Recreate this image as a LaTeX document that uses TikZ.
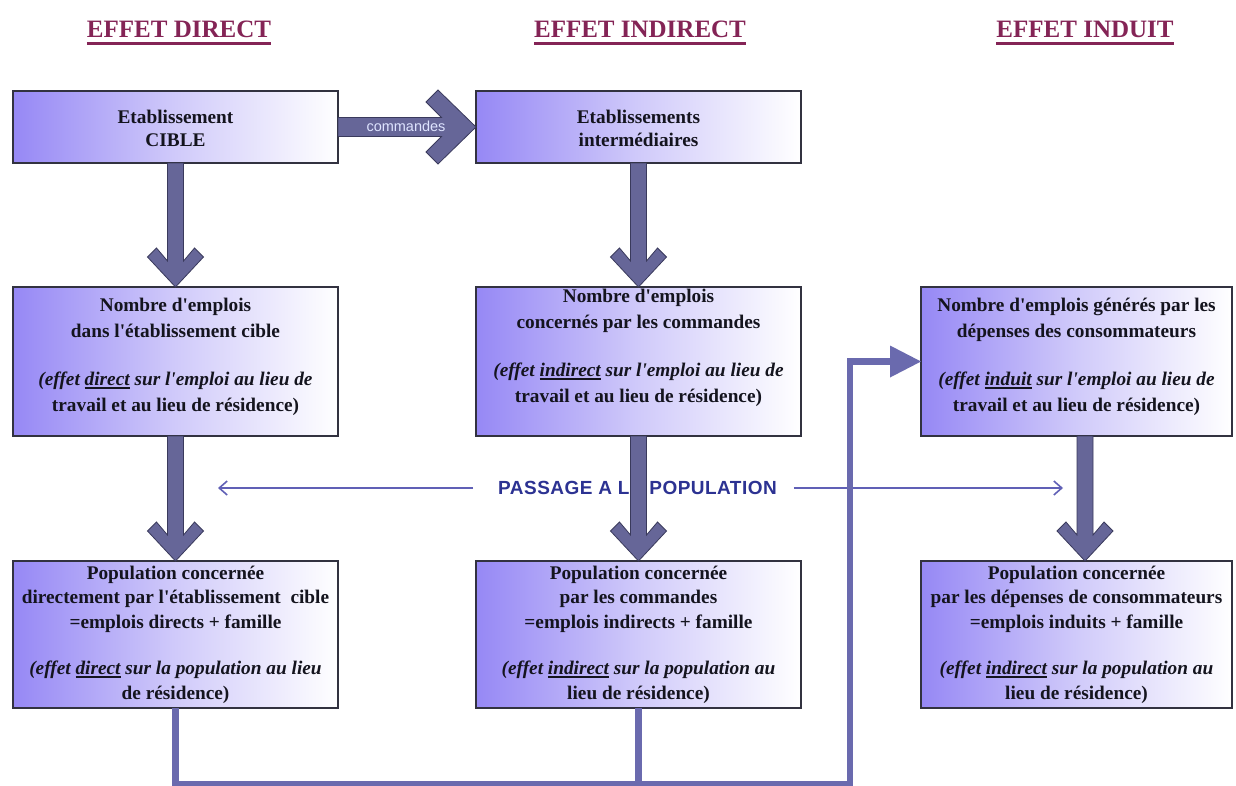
\documentclass[tikz,border=0pt]{standalone}
\usepackage{fontspec}
\setmainfont{Liberation Serif}[Ligatures=TeXOff]
\newfontfamily\arialf{Liberation Sans}
\newfontfamily\arialsp{Liberation Sans}[LetterSpace=2.5]
\usetikzlibrary{arrows.meta,calc}
\definecolor{boxL}{RGB}{150,136,245}
\definecolor{boxM}{RGB}{208,202,250}
\definecolor{boxD}{RGB}{50,50,64}
\definecolor{arrF}{RGB}{102,102,152}
\definecolor{arrD}{RGB}{58,58,92}
\definecolor{lnk}{RGB}{106,106,174}
\definecolor{hdr}{RGB}{132,36,86}
\definecolor{pas}{RGB}{44,50,146}
\definecolor{pasln}{RGB}{96,96,182}
\definecolor{cmdtxt}{RGB}{222,228,255}
\definecolor{txt}{RGB}{20,20,30}
\newsavebox\myulbox
\newcommand\myul[1]{\sbox\myulbox{#1}\rlap{\rule[-3.4pt]{\wd\myulbox}{1.7pt}}\usebox\myulbox}
\newcommand\myulh[1]{\sbox\myulbox{#1}\rlap{\rule[-7.5pt]{\wd\myulbox}{3pt}}\usebox\myulbox}
\newcommand\myBigDown[2]{%
  \path[bigarr] let \p1=#1, \p2=#2 in
    (\x1-8pt,\y1) -- (\x1-8pt,\y2+26pt) -- (\x1-19pt,\y2+39pt) -- (\x1-28pt,\y2+30pt) -- (\x1,\y2)
    -- (\x1+28pt,\y2+30pt) -- (\x1+19pt,\y2+39pt) -- (\x1+8pt,\y2+26pt) -- (\x1+8pt,\y1) -- cycle;}
\newcommand\myBigRight[2]{%
  \path[bigarr] let \p1=#1, \p2=#2 in
    (\x1,\y1+9.5pt) -- (\x2-34.5pt,\y1+9.5pt) -- (\x2-50pt,\y1+25pt) -- (\x2-38pt,\y1+37pt) -- (\x2,\y1)
    -- (\x2-38pt,\y1-37pt) -- (\x2-50pt,\y1-25pt) -- (\x2-34.5pt,\y1-9.5pt) -- (\x1,\y1-9.5pt) -- cycle;}
\begin{document}
\begin{tikzpicture}[x=1pt,y=-1pt,
  mybox/.style={draw=boxD, line width=1.2pt, left color=boxL, right color=white, middle color=boxM, inner sep=0pt, outer sep=0pt},
  boxtxt/.style={align=center, text=txt, inner sep=0pt, font=\fontsize{19.3}{24.5}\selectfont\bfseries},
  boxtxtb/.style={align=center, text=txt, inner sep=0pt, font=\fontsize{19.3}{26}\selectfont\bfseries},
  hdrtext/.style={anchor=base, text=hdr, inner sep=0pt, font=\fontsize{25}{25}\selectfont\bfseries},
  bigarr/.style={fill=arrF, draw=arrD, line width=0.8pt, line join=miter},
  lnkline/.style={draw=lnk, line width=6.5pt},
  pasline/.style={draw=pasln, line width=1.6pt}]
\useasboundingbox (0,0) rectangle (1236,785);
\fill[white] (0,0) rectangle (1236,785);

% headers
\node[hdrtext] (h1) at (179,37) {\myulh{EFFET DIRECT}};
\node[hdrtext] (h2) at (640,37) {\myulh{EFFET INDIRECT}};
\node[hdrtext] (h3) at (1085,37) {\myulh{EFFET INDUIT}};

% boxes
\node[mybox, minimum width=325pt, minimum height=72pt] (A) at (175.5,127) {};
\node[mybox, minimum width=325pt, minimum height=72pt] (B) at (638.5,127) {};
\node[mybox, minimum width=325pt, minimum height=149pt] (C) at (175.5,361.5) {};
\node[mybox, minimum width=325pt, minimum height=149pt] (D) at (638.5,361.5) {};
\node[mybox, minimum width=311pt, minimum height=149pt] (E) at (1076.5,361.5) {};
\node[mybox, minimum width=325pt, minimum height=147pt] (F) at (175.5,634.5) {};
\node[mybox, minimum width=325pt, minimum height=147pt] (G) at (638.5,634.5) {};
\node[mybox, minimum width=311pt, minimum height=147pt] (H) at (1076.5,634.5) {};

% texts
\node[boxtxt, font=\fontsize{19.3}{23}\selectfont\bfseries] (tA) at (175.5,128.5) {Etablissement\\CIBLE};
\node[boxtxt, font=\fontsize{19.3}{23}\selectfont\bfseries] (tB) at (638.5,128.5) {Etablissements\\intermédiaires};
\node[boxtxtb] (tC) at (175.5,357) {Nombre d'emplois\\dans l'établissement cible\\[22pt]\itshape(effet \myul{direct} sur l'emploi au lieu de\\travail et au lieu de résidence)};
\node[boxtxtb] (tD) at (638.5,348) {Nombre d'emplois\\concernés par les commandes\\[22pt]\itshape(effet \myul{indirect} sur l'emploi au lieu de\\travail et au lieu de résidence)};
\node[boxtxtb] (tE) at (1076.5,356.5) {Nombre d'emplois générés par les\\dépenses des consommateurs\\[22pt]\itshape(effet \myul{induit} sur l'emploi au lieu de\\travail et au lieu de résidence)};
\node[boxtxt] (tF) at (175.5,634.5) {Population concernée\\directement par l'établissement\ \ cible\\=emplois directs + famille\\[22pt]\itshape(effet \myul{direct} sur la population au lieu\\de résidence)};
\node[boxtxt] (tG) at (638.5,634.5) {Population concernée\\par les commandes\\=emplois indirects + famille\\[22pt]\itshape(effet \myul{indirect} sur la population au\\lieu de résidence)};
\node[boxtxt] (tH) at (1076.5,634.5) {Population concernée\\par les dépenses de consommateurs\\=emplois induits + famille\\[22pt]\itshape(effet \myul{indirect} sur la population au\\lieu de résidence)};

% passage a la population
\node[text=pas, inner sep=0pt, font=\arialsp\bfseries\fontsize{19}{19}\selectfont] (P) at (637.5,488) {PASSAGE A LA POPULATION};
\coordinate (pl) at (218,488);
\coordinate (pr) at (1063,488);
\draw[pasline, -{Straight Barb[length=8pt,width=14pt]}] ([xshift=-25pt]P.west) -- (pl);
\draw[pasline, -{Straight Barb[length=8pt,width=14pt]}] ([xshift=17pt]P.east) -- (pr);

% big arrows
\myBigRight{(A.east)}{(B.west)}
\node[text=cmdtxt, inner sep=0pt, font=\arialf\fontsize{14.5}{14.5}\selectfont] (cmd) at (406,126.5) {commandes};
\myBigDown{(A.south)}{(C.north)}
\myBigDown{(C.south)}{(F.north)}
\myBigDown{(B.south)}{(D.north)}
\myBigDown{(D.south)}{(G.north)}
\myBigDown{([xshift=8.5pt]E.south)}{([xshift=8.5pt]H.north)}

% return connector
\coordinate (bot) at (850,784);
\draw[lnkline] (G.south) -- (G.south |- bot);
\draw[lnkline, -{Triangle[length=31pt,width=32pt,line width=0pt]}] (F.south) -- (F.south |- bot) -- (bot) -- (bot |- E.west) -- (E.west);
\end{tikzpicture}
\end{document}
